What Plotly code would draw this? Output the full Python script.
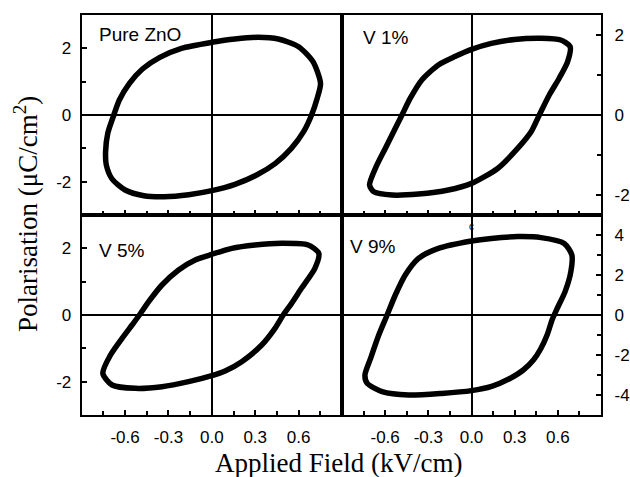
import plotly.graph_objects as go

# ---- data ----
pure_E = [-0.735, -0.72, -0.678, -0.64, -0.57, -0.48, -0.36, -0.21, 0.0, 0.16, 0.32, 0.46, 0.60, 0.70, 0.752, 0.729, 0.69, 0.635, 0.55, 0.44, 0.31, 0.16, 0.0, -0.16, -0.33, -0.47, -0.60, -0.69, -0.73, -0.735]
pure_P = [-1.10, -0.55, 0.0, 0.45, 0.95, 1.38, 1.73, 2.0, 2.18, 2.28, 2.33, 2.28, 2.05, 1.6, 0.95, 0.5, 0.0, -0.5, -1.0, -1.45, -1.8, -2.08, -2.27, -2.39, -2.45, -2.42, -2.25, -1.92, -1.5, -1.10]

v1_E = [-0.708, -0.667, -0.598, -0.529, -0.483, -0.425, -0.345, -0.23, -0.115, 0.0, 0.138, 0.299, 0.483, 0.62, 0.685, 0.667, 0.609, 0.54, 0.471, 0.414, 0.322, 0.184, 0.0, -0.161, -0.368, -0.552, -0.678, -0.708]
v1_P = [-1.75, -1.33, -0.83, -0.33, 0.0, 0.42, 0.875, 1.25, 1.46, 1.64, 1.79, 1.89, 1.92, 1.875, 1.71, 1.33, 0.92, 0.5, 0.0, -0.42, -0.83, -1.33, -1.71, -1.875, -1.975, -2.0, -1.92, -1.75]

v5_E = [-0.754, -0.701, -0.621, -0.552, -0.501, -0.437, -0.345, -0.23, -0.115, 0.0, 0.138, 0.299, 0.483, 0.667, 0.74, 0.713, 0.62, 0.552, 0.494, 0.437, 0.345, 0.207, 0.092, 0.0, -0.161, -0.345, -0.529, -0.69, -0.754]
v5_P = [-1.75, -1.2, -0.7, -0.3, 0.0, 0.4, 0.9, 1.35, 1.65, 1.82, 2.0, 2.1, 2.15, 2.1, 1.85, 1.4, 0.8, 0.35, 0.0, -0.4, -0.9, -1.4, -1.68, -1.82, -2.0, -2.15, -2.2, -2.1, -1.75]

v9_E = [-0.74, -0.701, -0.644, -0.586, -0.529, -0.46, -0.368, -0.23, 0.0, 0.138, 0.322, 0.483, 0.644, 0.697, 0.69, 0.65, 0.60, 0.562, 0.525, 0.48, 0.43, 0.36, 0.26, 0.14, 0.0, -0.207, -0.437, -0.621, -0.724, -0.74]
v9_P = [-3.0, -2.17, -1.0, 0.0, 1.0, 2.0, 2.83, 3.33, 3.7, 3.83, 3.92, 3.87, 3.58, 3.0, 2.17, 1.17, 0.4, -0.2, -1.0, -1.7, -2.25, -2.75, -3.2, -3.57, -3.78, -3.92, -4.0, -3.83, -3.42, -3.0]

panel_labels = ["Pure ZnO", "V 1%", "V 5%", "V 9%"]
x_tickvals = [-0.6, -0.3, 0.0, 0.3, 0.6]
x_ticktext = ["-0.6", "-0.3", "0.0", "0.3", "0.6"]
x_minor = [-0.75, -0.45, -0.15, 0.15, 0.45, 0.75]
y3_tickvals = [-2, 0, 2]
y3_ticktext = ["-2", "0", "2"]
y3_minor = [-1, 1]
y5_tickvals = [-4, -2, 0, 2, 4]
y5_ticktext = ["-4", "-2", "0", "2", "4"]
y5_minor = [-3, -1, 1, 3]
x_title = "Applied Field (kV/cm)"
y_title = "Polarisation (μC/cm<sup>2</sup>)"

W, H = 630, 477
def px(x):
    return x / W
def py(y):
    return 1 - y / H

tick_font = dict(family="Liberation Sans, Arial, sans-serif", size=17, color="black")

fig = go.Figure()
series = [(pure_E, pure_P), (v1_E, v1_P), (v5_E, v5_P), (v9_E, v9_P)]
for i, (e, p) in enumerate(series):
    fig.add_trace(go.Scatter(
        x=e, y=p, mode="lines",
        line=dict(color="black", width=5.5, shape="spline", smoothing=0.7),
        xaxis="x" if i == 0 else f"x{i+1}",
        yaxis="y" if i == 0 else f"y{i+1}",
        showlegend=False, hoverinfo="skip"))

xl = [px(82), px(343)]
xr = [px(343), px(603)]
yt = [py(215), py(15)]
yb = [py(415), py(215)]

common = dict(showline=True, linecolor="black", linewidth=2, mirror=True,
              showgrid=False, zeroline=True, zerolinecolor="black", zerolinewidth=2,
              ticks="inside", ticklen=5, tickwidth=1.5, tickcolor="black",
              tickfont=tick_font)

def xax(domain, anchor, labels):
    d = dict(common)
    d.update(domain=domain, anchor=anchor, range=[-0.9, 0.9],
             tickmode="array", tickvals=x_tickvals, ticktext=x_ticktext,
             showticklabels=labels, ticklabelstandoff=6,
             minor=dict(tickmode="array", tickvals=x_minor, ticks="inside",
                        ticklen=4, tickwidth=1.5, tickcolor="black"))
    return d

def yax(domain, anchor, rng, tv, tt, mn, side, standoff):
    d = dict(common)
    d.update(domain=domain, anchor=anchor, range=rng, side=side,
             tickmode="array", tickvals=tv, ticktext=tt, ticklabelstandoff=standoff,
             minor=dict(tickmode="array", tickvals=mn, ticks="inside",
                        ticklen=4, tickwidth=1.5, tickcolor="black"))
    return d

fig.update_layout(
    width=W, height=H, margin=dict(l=0, r=0, t=0, b=0),
    paper_bgcolor="white", plot_bgcolor="white",
    xaxis=xax(xl, "y", False),
    xaxis2=xax(xr, "y2", False),
    xaxis3=xax(xl, "y3", True),
    xaxis4=xax(xr, "y4", True),
    yaxis=yax(yt, "x", [-3, 3], y3_tickvals, y3_ticktext, y3_minor, "left", 5),
    yaxis2=yax(yt, "x2", [-2.5, 2.5], y3_tickvals, y3_ticktext, y3_minor, "right", 8),
    yaxis3=yax(yb, "x3", [-3, 3], y3_tickvals, y3_ticktext, y3_minor, "left", 5),
    yaxis4=yax(yb, "x4", [-5, 5], y5_tickvals, y5_ticktext, y5_minor, "right", 8),
)

label_font = dict(family="Liberation Sans, Arial, sans-serif", size=19, color="black")
label_pos = [(97, 34), (362, 37), (97, 250), (349, 246)]
for txt, (lx, ly) in zip(panel_labels, label_pos):
    fig.add_annotation(x=px(lx), y=py(ly), xref="paper", yref="paper", text=txt,
                       showarrow=False, xanchor="left", yanchor="middle", font=label_font)

title_font = dict(family="Liberation Serif, Times New Roman, serif", size=27, color="black")
fig.add_annotation(x=px(340), y=py(463), xref="paper", yref="paper", text=x_title,
                   showarrow=False, xanchor="center", yanchor="middle", font=title_font)
fig.add_annotation(x=px(26), y=py(214), xref="paper", yref="paper", text=y_title,
                   showarrow=False, xanchor="center", yanchor="middle", textangle=-90,
                   font=title_font)
fig.add_annotation(x=px(473), y=py(226), xref="paper", yref="paper", text="c",
                   showarrow=False, xanchor="center", yanchor="middle",
                   font=dict(family="Liberation Sans, Arial, sans-serif", size=10, color="black"))

fig.write_html("out.html")
